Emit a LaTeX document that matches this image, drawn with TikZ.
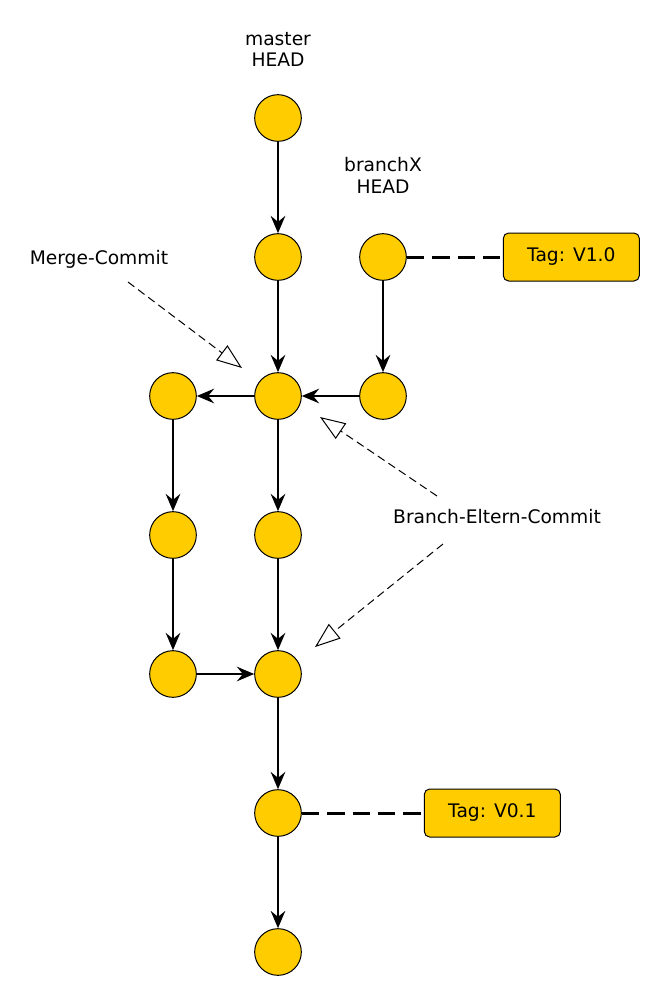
\documentclass[tikz,border=0pt]{standalone}
\usepackage{fontspec}
\setmainfont{DejaVu Sans}
\usetikzlibrary{arrows.meta}
\usetikzlibrary{positioning}
\definecolor{commitgold}{HTML}{FFCC00}
\tikzstyle{commit} =
[
	draw,circle,fill=commitgold,line width=0.75pt,
	minimum size=35pt, inner sep=0pt
]
\tikzstyle{tagbox} =
[
	draw,rectangle,rounded corners=4pt,fill=commitgold,line width=0.75pt,
	minimum width=102pt, minimum height=36pt, inner sep=0pt
]
\tikzstyle{txt} =
[
	align=center, inner sep=0pt
]
\tikzstyle{tagline} =
[
	-, line width=2.25pt, dash pattern=on 13pt off 6pt
]
\tikzstyle{note} =
[
	-{Triangle[open,length=19pt,width=14pt]},
	line width=0.75pt, dash pattern=on 6pt off 3.5pt
]

\begin{document}
\begin{tikzpicture}[x=0.75pt,y=-0.75pt,->,>={Stealth[length=13pt,width=11pt,inset=4.5pt]},line width=1.1pt,node distance=68.5pt and 43pt,font=\fontsize{14}{16.3}\selectfont]

\useasboundingbox (0,0) rectangle (663,1000);

% master
\node[commit] (M1) at (278,118) {};
\node[commit] (M2) [below=of M1] {};
\node[commit] (M3) [below=of M2] {};
\node[commit] (M4) [below=of M3] {};
\node[commit] (M5) [below=of M4] {};
\node[commit] (M6) [below=of M5] {};
\node[commit] (M7) [below=of M6] {};

% side line
\node[commit] (S1) [left=of M3] {};
\node[commit] (S2) [below=of S1] {};
\node[commit] (S3) [below=of S2] {};

% branchX
\node[commit] (B1) [right=of M2] {};
\node[commit] (B2) [right=of M3] {};

\node[tagbox] (T1) [right=72pt of B1] {Tag: V1.0};
\node[tagbox] (T2) [right=91.5pt of M6] {Tag: V0.1};

\node[txt] (LM) [above=20pt of M1] {master\\HEAD};
\node[txt] (LB) [above=29.5pt of B1] {branchX\\HEAD};
\node[txt] (LMC) [left=64pt of M2, yshift=-1.5pt] {Merge-Commit};
\node[txt] (LBE) at (497,517) {Branch-Eltern-Commit};

\coordinate (P1) at (128,282);
\coordinate (Q1) at (242,368);
\coordinate (P2) at (437,496);
\coordinate (Q2) at (320,417);
\coordinate (P3) at (443,544);
\coordinate (Q3) at (315,647);

\path
	(M1) edge (M2)
	(M2) edge (M3)
	(B1) edge (B2)
	(B2) edge (M3)
	(M3) edge (S1)
	(M3) edge (M4)
	(S1) edge (S2)
	(S2) edge (S3)
	(S3) edge (M5)
	(M4) edge (M5)
	(M5) edge (M6)
	(M6) edge (M7);

\path
	(B1) edge[tagline] (T1)
	(M6) edge[tagline] (T2);

\draw[note] (P1) -- (Q1);
\draw[note] (P2) -- (Q2);
\draw[note] (P3) -- (Q3);

\end{tikzpicture}
\end{document}
